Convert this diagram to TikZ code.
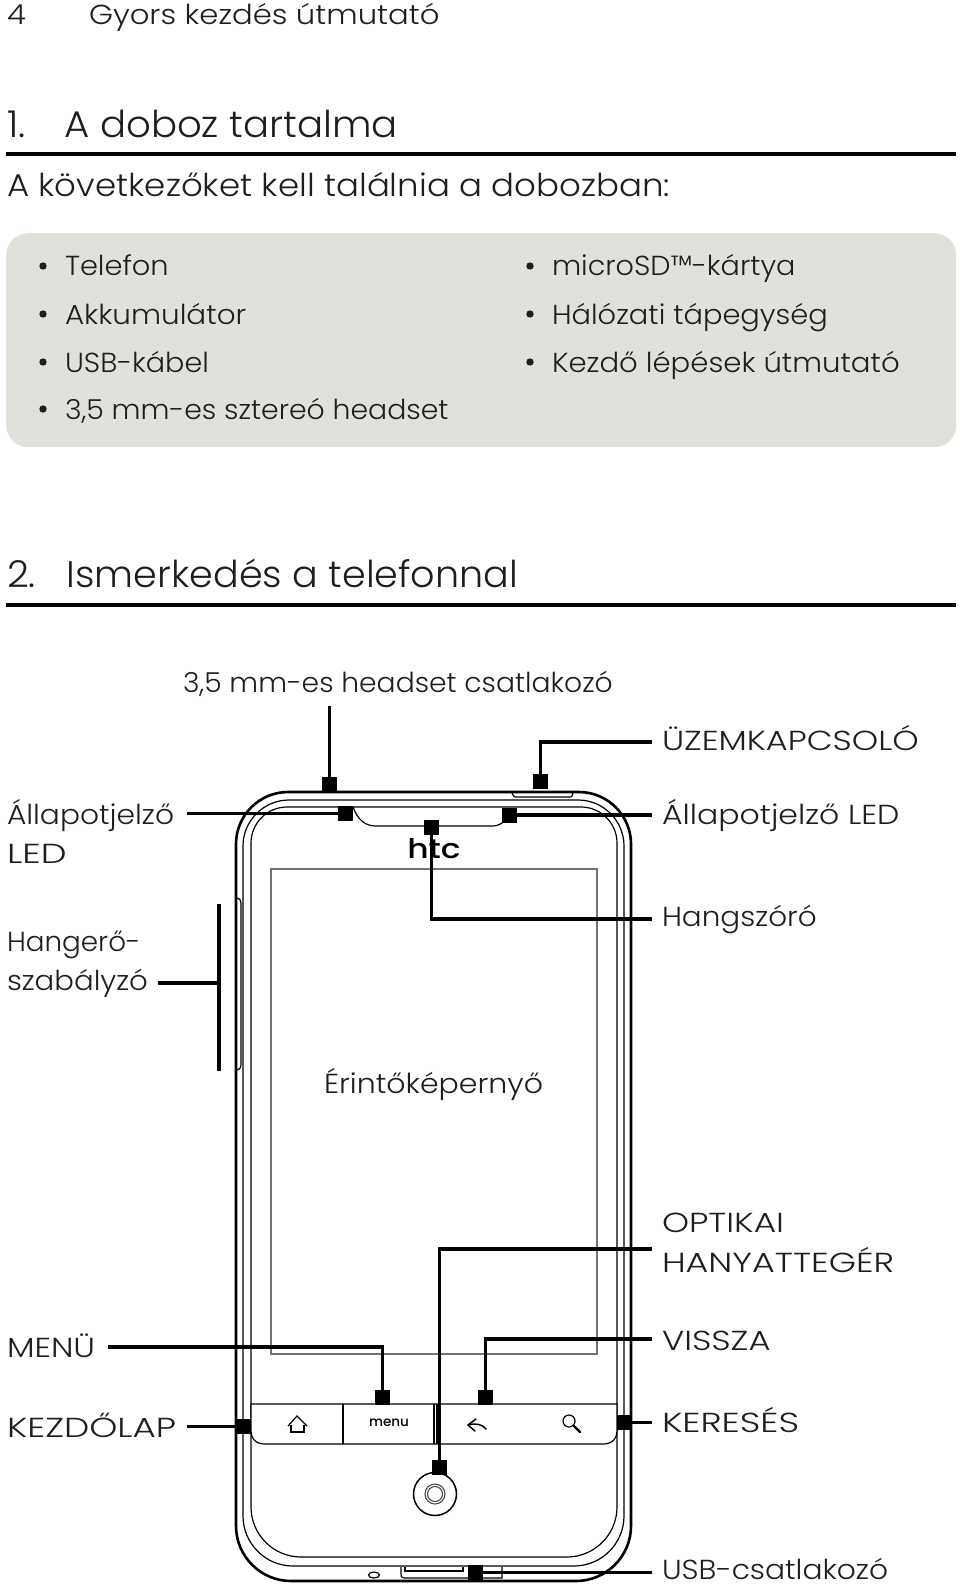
\documentclass[tikz,border=0pt]{standalone}
\usepackage{fontspec}
\setmainfont{Poppins Light}
\newfontfamily\logofont{Poppins Medium}
\definecolor{boxgrey}{HTML}{E2E0DB}
\definecolor{ink}{HTML}{1E1E1E}
\tikzset{
 txt/.style={anchor=base west,inner sep=0pt,outer sep=0pt,text=ink,font=\fontsize{27.5}{30}\selectfont\addfontfeature{FakeStretch=#1}},
 txt/.default=1.06,
 head/.style={txt,font=\fontsize{37}{40}\selectfont\addfontfeature{FakeStretch=#1}},
 head/.default=1.045,
 sub/.style={txt,font=\fontsize{31.5}{34}\selectfont\addfontfeature{FakeStretch=1.08}},
 tag/.style={draw=none,fill=black,minimum size=15pt,inner sep=0pt,outer sep=0pt},
 lead/.style={line width=3.4pt,black},
 rule/.style={line width=3.8pt,black},
 thick outline/.style={line width=2.6pt,black},
 thin outline/.style={line width=1.2pt,black},
 grey outline/.style={line width=1.2pt,black!55},
}
\newcommand{\phoneoutline}[7][]{%
 \draw[#1] ({#2+#6},#3) -- ({#4-#6},#3)
 .. controls ({#4-0.45*#6},#3) and (#4,{#3+0.45*#6}) .. (#4,{#3+#6})
 -- (#4,{#5-#7})
 .. controls (#4,{#5-0.45*#7}) and ({#4-0.45*#7},#5) .. ({#4-#7},#5)
 -- ({#2+#7},#5)
 .. controls ({#2+0.45*#7},#5) and (#2,{#5-0.45*#7}) .. (#2,{#5-#7})
 -- (#2,{#3+#6})
 .. controls (#2,{#3+0.45*#6}) and ({#2+0.45*#6},#3) .. ({#2+#6},#3) -- cycle;}
\begin{document}
\begin{tikzpicture}[x=1pt,y=-1pt]
\useasboundingbox (0,0) rectangle (960,1589);
\fill[white] (0,0) rectangle (960,1589);
% header texts
\node[txt=1.117] (pageno) at (7,25) {4};
\node[txt=1.117] (pagetitle) at (89,25) {Gyors kezdés útmutató};
\node[head] (h1) at (7,138) {1.\hspace{39pt}A doboz tartalma};
\draw[rule] (6,154) -- (956,154);
\node[sub] (intro) at (7,197) {A következőket kell találnia a dobozban:};
% grey panel
\node[draw=none,fill=boxgrey,rounded corners=22pt,minimum width=950pt,minimum height=214pt,inner sep=0pt,anchor=north west] (panel) at (6,233) {};
\foreach \n/\yy/\s/\t in {a/276/1.05/Telefon,b/324/1.07/Akkumulátor,c/372/1.04/USB-kábel,d/419/1.03/{3,5 mm-es sztereó headset}}{
 \fill[ink] (43,\yy-10) circle (3.7pt);
 \node[txt=\s] (left\n) at (65,\yy) {\t};}
\foreach \n/\yy/\s/\t in {a/276/1.04/{microSD™-kártya},b/324/1.05/{Hálózati tápegység},c/372/1.06/{Kezdő lépések útmutató}}{
 \fill[ink] (530,\yy-10) circle (3.7pt);
 \node[txt=\s] (right\n) at (552,\yy) {\t};}
\node[head=1.03] (h2) at (7,587.5) {2.\hspace{31pt}Ismerkedés a telefonnal};
\draw[rule] (6,605) -- (956,605);
% phone
\phoneoutline[grey outline]{271}{869}{597}{1354}{0}{0}
\phoneoutline[thick outline]{236}{792}{631}{1581}{52}{55}
\phoneoutline[thin outline]{243}{800}{624}{1566}{46}{50}
\phoneoutline[thin outline]{251}{807}{617}{1557}{36}{50}
% side and top buttons
\draw[thin outline] (237,898) .. controls (240,899) .. (241,903) -- (241,1065) .. controls (240,1069) .. (237,1070);
\draw[thin outline] (512,793) .. controls (514,797) .. (518,797) -- (568,797) .. controls (572,797) .. (573,793);
% speaker slot
\draw[thin outline] (353,807) .. controls (358,820) and (365,826) .. (376,826) -- (492,826) .. controls (500,826) and (504,822) .. (507,818);
\node[anchor=base,inner sep=0pt,text=black,font=\logofont\fontsize{27}{27}\selectfont\addfontfeature{FakeStretch=1.22}] (htc) at (434,858) {htc};
% soft keys
\draw[thin outline,fill=white] (251,1404) -- (617,1404) -- (617,1430) .. controls (617,1439) and (612,1444) .. (603,1444) -- (265,1444) .. controls (256,1444) and (251,1439) .. (251,1430) -- cycle;
\draw[thin outline] (343,1404) -- (343,1444);
\draw[thin outline] (434,1404) -- (434,1444);
\draw[thin outline] (437,1404) -- (437,1444);
% home icon
\draw[line width=1.2pt] (288,1426) -- (297,1416) -- (307,1426);
\draw[line width=1.2pt] (291,1425) -- (291,1432) -- (304,1432) -- (304,1425);
\node[inner sep=0pt,text=black,font=\logofont\fontsize{13.5}{14}\selectfont] (menu) at (389,1423) {menu};
% back icon
\draw[line width=1.5pt,line cap=round] (468,1425) -- (476,1419);
\draw[line width=1.5pt,line cap=round] (468,1425) -- (475,1431);
\draw[line width=1.5pt,line cap=round] (468,1425) .. controls (476,1423) and (482,1424) .. (486,1429);
% search icon
\draw[line width=1.2pt] (569,1421) circle (6pt);
\draw[line width=2.2pt,line cap=round] (574,1426) -- (580,1432);
% optical button
\draw[line width=1.5pt,fill=white] (435,1494) circle (21.5pt);
\draw[line width=1.1pt,black!70] (435,1494) circle (10pt);
\draw[line width=1.1pt,black!70] (435,1494) circle (7.5pt);
% bottom details
\draw[thin outline] (374,1575) ellipse (5.5pt and 3pt);
\draw[thin outline] (401,1567) -- (401,1574) .. controls (401,1577) .. (404,1578) -- (502,1578) -- (502,1567);
\draw[thin outline] (405,1567) -- (405,1571) -- (463,1571) -- (463,1567);
% labels
\node[txt=1.025] (ljack) at (183,692) {3,5 mm-es headset csatlakozó};
\node[txt=1.22] (lpower) at (662,750) {ÜZEMKAPCSOLÓ};
\node[txt=1.08] (lledl1) at (7,824) {Állapotjelző};
\node[txt=1.33] (lledl2) at (7,863) {LED};
\node[txt=1.147] (lledr) at (662,824) {Állapotjelző LED};
\node[txt=1.01] (lvol1) at (7,951) {Hangerő-};
\node[txt=1.06] (lvol2) at (7,990) {szabályzó};
\node[txt=1.07] (lspk) at (662,926) {Hangszóró};
\node[txt=1.09] (lscr) at (324,1093) {Érintőképernyő};
\node[txt=1.25] (lopt1) at (662,1232) {OPTIKAI};
\node[txt=1.27] (lopt2) at (662,1272) {HANYATTEGÉR};
\node[txt=1.23] (lback) at (662,1350) {VISSZA};
\node[txt=1.19] (lmenu) at (7,1357) {MENÜ};
\node[txt=1.30] (lhome) at (7,1437) {KEZDŐLAP};
\node[txt=1.31] (lsearch) at (662,1432) {KERESÉS};
\node[txt=1.08] (lusb) at (662,1579) {USB-csatlakozó};
% tags
\node[tag] (tjack) at (329.5,784) {};
\node[tag] (tpower) at (540.5,781.5) {};
\node[tag] (tledl) at (345.5,813.5) {};
\node[tag] (tledr) at (509.5,815) {};
\node[tag] (tspk) at (431.5,827.5) {};
\node[tag] (tmenu) at (382.5,1397) {};
\node[tag] (tback) at (485.5,1397) {};
\node[tag] (thome) at (243.5,1426.5) {};
\node[tag] (tsearch) at (624.5,1422.5) {};
\node[tag] (topt) at (439.5,1467.5) {};
\node[tag] (tusb) at (475,1572.5) {};
% free ends
\coordinate (ejack) at (329.5,706);
\coordinate (epower) at (652,742);
\coordinate (eledl) at (187,813.5);
\coordinate (eledr) at (652,815);
\coordinate (espk) at (652,919);
\coordinate (evolc) at (158,983);
\coordinate (evolt) at (219,904);
\coordinate (evolb) at (219,1071);
\coordinate (eopt) at (652,1249);
\coordinate (eback) at (652,1339);
\coordinate (emenu) at (108,1347);
\coordinate (ehome) at (187,1426.5);
\coordinate (esearch) at (652,1422.5);
\coordinate (eusb) at (652,1572.5);
% connectors
\draw[lead] (ejack) -- (tjack);
\draw[lead] (epower) -| (tpower);
\draw[lead] (eledl) -- (tledl);
\draw[lead] (eledr) -- (tledr);
\draw[lead] (espk) -| (tspk);
\draw[lead] (evolt) -- (evolb);
\draw[lead] (evolc) -- (219,983);
\draw[lead] (eopt) -| (topt);
\draw[lead] (eback) -| (tback);
\draw[lead] (emenu) -| (tmenu);
\draw[lead] (ehome) -- (thome);
\draw[lead] (esearch) -- (tsearch);
\draw[lead] (eusb) -- (tusb);
\end{tikzpicture}
\end{document}
